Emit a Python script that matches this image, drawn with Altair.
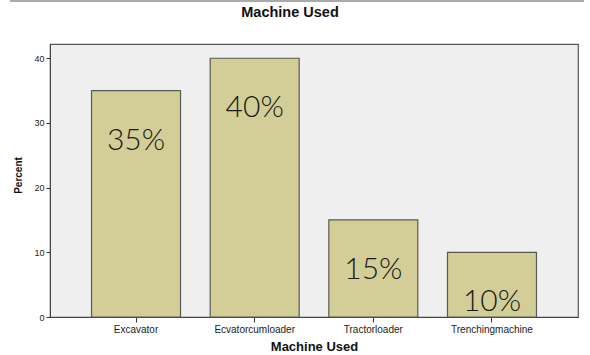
import altair as alt
import pandas as pd

machines = ["Excavator", "Ecvatorcumloader", "Tractorloader", "Trenchingmachine"]
percents = [35, 40, 15, 10]
labels = ["35%", "40%", "15%", "10%"]

df = pd.DataFrame({"machine": machines, "percent": percents, "label": labels})

x_enc = alt.X(
    "machine:N",
    sort=machines,
    title="Machine Used",
    scale=alt.Scale(paddingInner=0.25, paddingOuter=0.35),
    axis=alt.Axis(
        labelAngle=0,
        labelFontSize=10,
        labelColor="#222",
        labelFont="Liberation Sans",
        tickColor="#333",
        tickSize=5,
        domainColor="#444",
        titleFont="Liberation Sans",
        titleFontSize=13,
        titleFontWeight="bold",
        titleColor="#111",
        titlePadding=6,
        labelPadding=2,
    ),
)
y_enc = alt.Y(
    "percent:Q",
    title="Percent",
    scale=alt.Scale(domain=[0, 42.2], nice=False),
    axis=alt.Axis(
        values=[0, 10, 20, 30, 40],
        grid=False,
        labelFontSize=9,
        labelColor="#222",
        labelFont="Liberation Sans",
        tickColor="#333",
        tickSize=4,
        domainColor="#444",
        titleFont="Liberation Sans",
        titleFontSize=10,
        titleFontWeight="bold",
        titleColor="#111",
        titlePadding=10,
        titleY=131,
        labelPadding=2,
    ),
)

bars = alt.Chart(df).mark_bar(
    color="#d3ce97", stroke="#5a5a50", strokeWidth=1.2
).encode(x=x_enc, y=y_enc)

text = alt.Chart(df).mark_text(
    font="Lato", fontWeight=300, fontSize=30, color="#1a1a1a",
    baseline="middle", dy=50,
).encode(x=alt.X("machine:N", sort=machines), y="percent:Q", text="label:N")

top_rule = alt.Chart(df).mark_rule(color="#aaaaaa", strokeWidth=1.5).encode(
    x=alt.value(-40), x2=alt.value(534), y=alt.value(-43)
)

chart = (
    alt.layer(bars, text, top_rule)
    .properties(
        width=528,
        height=273,
        title=alt.TitleParams(
            "Machine Used", font="Liberation Sans", fontSize=14.5,
            fontWeight="bold", color="#111", anchor="middle", offset=-20,
            dx=-24,
        ),
        autosize=alt.AutoSizeParams(type="none"),
        padding={"left": 50, "top": 44, "right": 12, "bottom": 38},
    )
    .configure_view(fill="#efefef", stroke="#555555", strokeWidth=1.2)
)

chart.save("out.html", embed_options={"renderer": "svg", "actions": False})
